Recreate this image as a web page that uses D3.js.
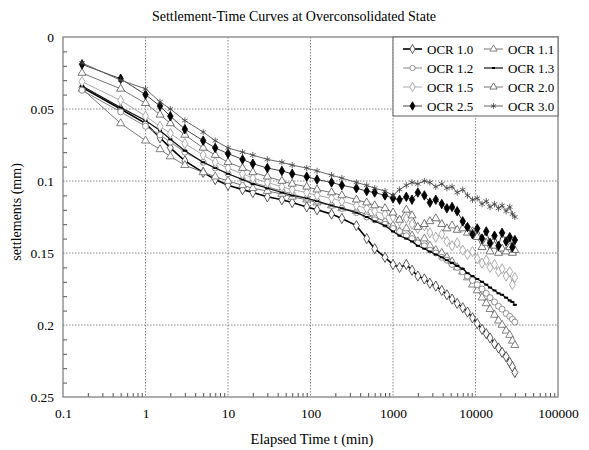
<!DOCTYPE html>
<html>
<head>
<meta charset="utf-8">
<script src="https://cdn.jsdelivr.net/npm/d3@7"></script>
<style>
  body { margin: 0; background: #fff; }
  svg text { font-family: "Liberation Serif", "Times New Roman", serif !important; fill: #000; }
</style>
</head>
<body>
<svg width="589" height="450"></svg>
<script>
// elapsed time (min), shared by all series
const times = [0.17, 0.5, 1, 1.5, 2, 3, 5, 7, 10, 15, 20, 30, 45, 60, 90, 120, 180, 240, 360, 480,
  600, 800, 1000, 1200, 1450, 1700, 2000, 2400, 2800, 3300, 3900, 4500, 5200, 6000, 7000, 8000,
  9200, 10500, 12000, 13500, 15000, 17000, 19000, 21000, 23500, 26000, 28000, 30000];

// settlements (mm)
const ocr10 = [0.035, 0.050, 0.060, 0.070, 0.077, 0.086, 0.094, 0.099, 0.103, 0.106, 0.108, 0.111, 0.113, 0.115, 0.118, 0.120,
  0.123, 0.126, 0.131, 0.140, 0.147, 0.153, 0.158, 0.160, 0.158, 0.162, 0.166, 0.168, 0.171, 0.173, 0.176, 0.179,
  0.182, 0.185, 0.188, 0.191, 0.195, 0.199, 0.203, 0.206, 0.209, 0.213, 0.216, 0.219, 0.222, 0.226, 0.229, 0.233];
const ocr11 = [0.036, 0.060, 0.072, 0.078, 0.083, 0.089, 0.094, 0.097, 0.100, 0.103, 0.105, 0.107, 0.109, 0.111, 0.113, 0.115,
  0.117, 0.119, 0.121, 0.123, 0.125, 0.128, 0.131, 0.135, 0.133, 0.138, 0.142, 0.140, 0.145, 0.148, 0.150, 0.153,
  0.156, 0.160, 0.163, 0.167, 0.172, 0.176, 0.181, 0.185, 0.189, 0.193, 0.197, 0.200, 0.204, 0.207, 0.211, 0.214];
const ocr12 = [0.037, 0.052, 0.062, 0.068, 0.073, 0.080, 0.087, 0.091, 0.095, 0.099, 0.101, 0.104, 0.107, 0.109, 0.112, 0.114,
  0.117, 0.119, 0.122, 0.125, 0.127, 0.130, 0.133, 0.135, 0.138, 0.140, 0.143, 0.145, 0.148, 0.150, 0.153, 0.155,
  0.158, 0.160, 0.163, 0.166, 0.169, 0.172, 0.175, 0.178, 0.181, 0.184, 0.187, 0.189, 0.192, 0.194, 0.196, 0.198];
const ocr13 = [0.034, 0.049, 0.058, 0.065, 0.071, 0.079, 0.087, 0.091, 0.095, 0.099, 0.102, 0.105, 0.108, 0.110, 0.112, 0.114,
  0.117, 0.119, 0.122, 0.125, 0.128, 0.131, 0.135, 0.138, 0.140, 0.142, 0.145, 0.147, 0.149, 0.151, 0.153, 0.155,
  0.157, 0.159, 0.161, 0.164, 0.166, 0.168, 0.170, 0.172, 0.174, 0.176, 0.178, 0.179, 0.181, 0.183, 0.184, 0.186];
const ocr15 = [0.031, 0.044, 0.055, 0.062, 0.067, 0.074, 0.082, 0.087, 0.091, 0.095, 0.098, 0.101, 0.104, 0.106, 0.108, 0.110,
  0.112, 0.114, 0.117, 0.119, 0.121, 0.123, 0.125, 0.128, 0.126, 0.130, 0.133, 0.131, 0.136, 0.139, 0.137, 0.142,
  0.145, 0.143, 0.148, 0.151, 0.149, 0.154, 0.157, 0.155, 0.160, 0.158, 0.163, 0.161, 0.166, 0.163, 0.172, 0.167];
const ocr20 = [0.025, 0.036, 0.046, 0.054, 0.060, 0.068, 0.077, 0.082, 0.087, 0.091, 0.094, 0.097, 0.100, 0.102, 0.104, 0.106,
  0.108, 0.110, 0.113, 0.115, 0.117, 0.119, 0.122, 0.127, 0.120, 0.124, 0.132, 0.130, 0.128, 0.126, 0.130, 0.133,
  0.131, 0.134, 0.133, 0.136, 0.135, 0.139, 0.146, 0.143, 0.149, 0.145, 0.150, 0.147, 0.149, 0.146, 0.150, 0.148];
const ocr25 = [0.019, 0.029, 0.040, 0.048, 0.055, 0.064, 0.072, 0.077, 0.081, 0.085, 0.088, 0.091, 0.093, 0.095, 0.097, 0.099,
  0.101, 0.103, 0.105, 0.107, 0.108, 0.110, 0.112, 0.113, 0.111, 0.113, 0.108, 0.110, 0.115, 0.113, 0.116, 0.119,
  0.118, 0.121, 0.128, 0.132, 0.137, 0.133, 0.140, 0.135, 0.143, 0.138, 0.145, 0.136, 0.142, 0.139, 0.146, 0.141];
const ocr30 = [0.018, 0.030, 0.036, 0.045, 0.050, 0.058, 0.066, 0.072, 0.077, 0.080, 0.082, 0.085, 0.087, 0.089, 0.091, 0.093,
  0.096, 0.098, 0.101, 0.103, 0.105, 0.107, 0.110, 0.106, 0.103, 0.101, 0.102, 0.100, 0.101, 0.104, 0.102, 0.105,
  0.104, 0.108, 0.106, 0.110, 0.113, 0.112, 0.116, 0.114, 0.118, 0.116, 0.119, 0.117, 0.121, 0.118, 0.123, 0.125];

const names = ['OCR 1.0', 'OCR 1.1', 'OCR 1.2', 'OCR 1.3', 'OCR 1.5', 'OCR 2.0', 'OCR 2.5', 'OCR 3.0'];
const xTicks = [0.1, 1, 10, 100, 1000, 10000, 100000];
const yTicks = [0, 0.05, 0.1, 0.15, 0.2, 0.25];

const seriesValues = [ocr10, ocr11, ocr12, ocr13, ocr15, ocr20, ocr25, ocr30];

// look of each series
const styles = [
  {line: '#000', lw: 1.6, sym: d3.symbolDiamond, size: 30, stroke: '#333', fill: '#fff'},
  {line: '#777', lw: 1, sym: d3.symbolTriangle, size: 28, stroke: '#666', fill: '#fff'},
  {line: '#888', lw: 1, sym: d3.symbolCircle, size: 28, stroke: '#777', fill: '#fff'},
  {line: '#111', lw: 1.2, sym: null, size: 0, stroke: '#000', fill: '#000'},
  {line: '#aaa', lw: 1, sym: d3.symbolDiamond, size: 30, stroke: '#999', fill: '#fff'},
  {line: '#777', lw: 1, sym: d3.symbolTriangle, size: 28, stroke: '#555', fill: '#fff'},
  {line: '#444', lw: 1, sym: d3.symbolDiamond, size: 26, stroke: '#000', fill: '#000'},
  {line: '#666', lw: 1, sym: d3.symbolAsterisk, size: 28, stroke: '#444', fill: 'none'}
];

const serif = '"Liberation Serif", "Times New Roman", serif';

const svg = d3.select('svg').attr('font-family', serif);
const margin = {top: 37, right: 31, bottom: 53, left: 63};
const innerwidth = 589 - margin.left - margin.right;
const innerheight = 450 - margin.top - margin.bottom;

const g = svg.append('g')
  .attr('transform', 'translate(' + margin.left + ',' + margin.top + ')');

const xscale = d3.scaleLog().domain([0.1, 100000]).range([0, innerwidth]);
const yscale = d3.scaleLinear().domain([0, 0.25]).range([0, innerheight]);

// dotted grid
g.append('g').selectAll('line')
  .data(xTicks.slice(1, -1))
  .enter().append('line')
  .attr('x1', d => xscale(d)).attr('x2', d => xscale(d))
  .attr('y1', 0).attr('y2', innerheight)
  .attr('stroke', '#888').attr('stroke-dasharray', '1.5,1.5');
g.append('g').selectAll('line')
  .data(yTicks.slice(1, -1))
  .enter().append('line')
  .attr('y1', d => yscale(d)).attr('y2', d => yscale(d))
  .attr('x1', 0).attr('x2', innerwidth)
  .attr('stroke', '#888').attr('stroke-dasharray', '1.5,1.5');

// minor ticks pointing inward
const xMinor = [];
for (let e = -1; e < 5; e++) for (let k = 2; k < 10; k++) xMinor.push(k * Math.pow(10, e));
const xminorG = g.append('g')
  .attr('transform', 'translate(0,' + innerheight + ')')
  .call(d3.axisBottom(xscale).tickValues(xMinor).tickSize(-4).tickFormat(''));
xminorG.select('.domain').remove();
xminorG.selectAll('.tick line').attr('stroke', '#555');

const yMinor = d3.range(1, 25).map(i => i / 100).filter(d => Math.round(d * 100) % 5 !== 0);
const yminorG = g.append('g')
  .call(d3.axisLeft(yscale).tickValues(yMinor).tickSize(-4).tickFormat(''));
yminorG.select('.domain').remove();
yminorG.selectAll('.tick line').attr('stroke', '#555');

// tick labels
const xaxisG = g.append('g')
  .attr('transform', 'translate(0,' + innerheight + ')')
  .call(d3.axisBottom(xscale).tickValues(xTicks).tickSize(0).tickPadding(11)
    .tickFormat(d => d === 0.1 ? '0.1' : d3.format('d')(d)));
xaxisG.attr('font-family', serif).attr('font-size', 13.5);
xaxisG.select('.domain').remove();

const yaxisG = g.append('g')
  .call(d3.axisLeft(yscale).tickValues(yTicks).tickSize(0).tickPadding(9)
    .tickFormat(d => d === 0 ? '0' : String(+d.toFixed(2))));
yaxisG.attr('font-family', serif).attr('font-size', 13.5);
yaxisG.select('.domain').remove();

// frame
g.append('rect')
  .attr('width', innerwidth).attr('height', innerheight)
  .attr('fill', 'none').attr('stroke', '#777').attr('stroke-width', 1.2);

// series
const line = d3.line()
  .x((d, i) => xscale(times[i]))
  .y(d => yscale(d));

seriesValues.forEach((vals, si) => {
  const st = styles[si];
  const sg = g.append('g');
  sg.append('path')
    .datum(vals)
    .attr('d', line)
    .attr('fill', 'none')
    .attr('stroke', st.line)
    .attr('stroke-width', st.lw);
  if (st.sym) {
    sg.selectAll('path.m')
      .data(vals)
      .enter().append('path')
      .attr('class', 'm')
      .attr('d', d3.symbol().type(st.sym).size(st.size))
      .attr('transform', (d, i) => 'translate(' + xscale(times[i]) + ',' + yscale(d) + ')')
      .attr('fill', st.fill)
      .attr('stroke', st.stroke)
      .attr('stroke-width', 0.8);
  } else {
    sg.selectAll('line.m')
      .data(vals)
      .enter().append('line')
      .attr('class', 'm')
      .attr('x1', (d, i) => xscale(times[i]) - 2).attr('x2', (d, i) => xscale(times[i]) + 2)
      .attr('y1', d => yscale(d)).attr('y2', d => yscale(d))
      .attr('stroke', '#000').attr('stroke-width', 2);
  }
});

// legend
const lg = g.append('g').attr('transform', 'translate(' + (innerwidth - 165) + ',0)');
lg.append('rect')
  .attr('width', 165).attr('height', 79)
  .attr('fill', '#fff').attr('stroke', '#777').attr('stroke-width', 1.2);
names.forEach((n, i) => {
  const st = styles[i];
  const col = i % 2, row = Math.floor(i / 2);
  const x0 = 10 + col * 81, y0 = 12 + row * 19;
  const it = lg.append('g').attr('transform', 'translate(' + x0 + ',' + y0 + ')');
  it.append('line').attr('x1', 0).attr('x2', 19).attr('y1', 0).attr('y2', 0)
    .attr('stroke', st.line).attr('stroke-width', st.lw);
  if (st.sym) {
    it.append('path')
      .attr('d', d3.symbol().type(st.sym).size(st.size * 0.8))
      .attr('transform', 'translate(9.5,0)')
      .attr('fill', st.fill).attr('stroke', st.stroke).attr('stroke-width', 0.8);
  } else {
    it.append('line').attr('x1', 8).attr('x2', 11).attr('y1', 0).attr('y2', 0)
      .attr('stroke', '#000').attr('stroke-width', 2);
  }
  it.append('text').attr('x', 24).attr('y', 4.5)
    .attr('font-size', 13).text(n);
});

// titles
svg.append('text')
  .attr('x', 294).attr('y', 21)
  .attr('text-anchor', 'middle')
  .attr('font-size', 14)
  .text('Settlement-Time Curves at Overconsolidated State');

svg.append('text')
  .attr('x', 312).attr('y', 444)
  .attr('text-anchor', 'middle')
  .attr('font-size', 14.5)
  .text('Elapsed Time t (min)');

svg.append('text')
  .attr('transform', 'translate(21,212) rotate(-90)')
  .attr('text-anchor', 'middle')
  .attr('font-size', 14)
  .text('settlements  (mm)');
</script>
</body>
</html>
